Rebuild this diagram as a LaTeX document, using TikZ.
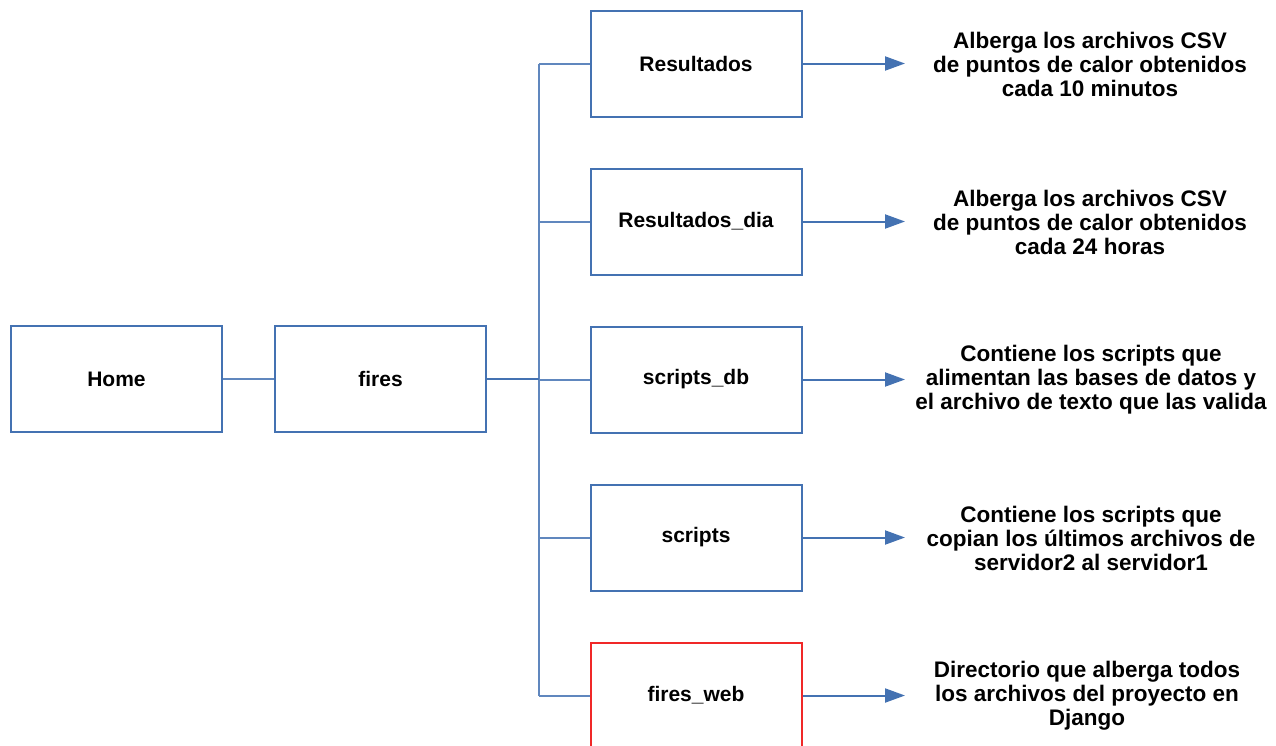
\documentclass[tikz,border=0pt]{standalone}
\usepackage{fontspec}
\setmainfont{Liberation Sans}
\usetikzlibrary{arrows.meta}
\definecolor{lineblue}{RGB}{68,114,178}
\definecolor{boxred}{RGB}{240,40,40}
\tikzset{%
    folder/.style={draw=lineblue,line width=2pt,minimum width=211pt,minimum height=106pt,inner sep=0pt,font=\fontsize{21}{24}\selectfont\bfseries},
    link/.style={draw=lineblue!85,line width=2pt},
    note/.style={align=center,inner sep=0pt,font=\fontsize{22.5}{24}\selectfont\bfseries},
    pointer/.style={link,draw=lineblue,-{Triangle[length=20pt,width=14pt]}},
}

\begin{document}
\begin{tikzpicture}[x=1pt,y=-1pt]
	
	\useasboundingbox (0,0) rectangle (1276,745);
	
	%left branch
	\node[folder] (home) at (116.5,379) {Home};
	\node[folder] (fires) at (380.5,379) {fires};
	
	%sub folders
	\node[folder] (res) at (696,63.5) {Resultados};
	\node[folder] (resdia) at (696,221.5) {Resultados\_dia};
	\node[folder] (scdb) at (696,379.5) {scripts\_db};
	\node[folder] (sc) at (696,537.5) {scripts};
	\node[folder,draw=boxred] (web) at (696,695.5) {fires\_web};
	
	%descriptions
	\node[note] (nres) at (1090,64) {Alberga los archivos CSV\\de puntos de calor obtenidos\\cada 10 minutos};
	\node[note] (nresdia) at (1090,222) {Alberga los archivos CSV\\de puntos de calor obtenidos\\cada 24 horas};
	\node[note] (nscdb) at (1091,380) {Contiene los scripts que\\alimentan las bases de datos y\\el archivo de texto que las valida};
	\node[note] (nsc) at (1091,538) {Contiene los scripts que\\copian los últimos archivos de\\servidor2 al servidor1};
	\node[note] (nweb) at (1087,696) {Directorio que alberga todos\\los archivos del proyecto en\\Django};
	
	%trunk
	\coordinate (top) at (539,63.5);
	\coordinate (bot) at (539,695.5);
	\coordinate (tip) at (905,0);
	\draw[link] (top) -- (bot);
	\draw[link] (home) -- (fires);
	\draw[link,draw=lineblue,line width=2.5pt] (fires.east) -- (fires.east -| top);
	\foreach \f in {res,resdia,scdb,sc,web}
		\draw[link] (\f.west -| top) -- (\f.west);
	
	%arrows
	\foreach \f in {res,resdia,scdb,sc,web}
		\draw[pointer] (\f.east) -- (\f.east -| tip);
	
\end{tikzpicture}
\end{document}
